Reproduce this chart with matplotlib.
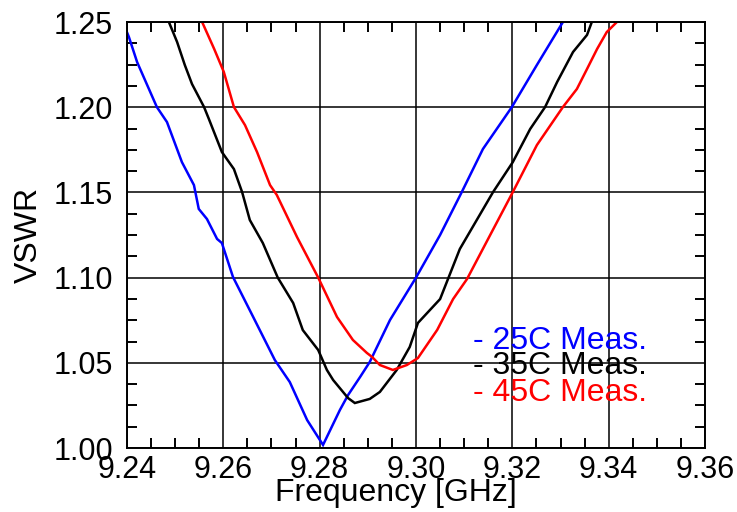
import matplotlib
matplotlib.use("Agg")
import matplotlib.pyplot as plt
from matplotlib.ticker import MultipleLocator

freq_25c = [9.2400, 9.2404, 9.2421, 9.2462, 9.2483, 9.2514, 9.2539, 9.2549,
            9.2566, 9.2587, 9.2597, 9.2620, 9.2662, 9.2707, 9.2738, 9.2774,
            9.2807, 9.2842, 9.2859, 9.2884, 9.2904, 9.2946, 9.3000, 9.3050,
            9.3095, 9.3139, 9.3199, 9.3251, 9.3305, 9.3310]
vswr_25c = [1.2440, 1.2412, 1.2265, 1.2001, 1.1913, 1.1678, 1.1543, 1.1403,
            1.1344, 1.1227, 1.1203, 1.1004, 1.0769, 1.0516, 1.0387, 1.0164,
            1.0018, 1.0223, 1.0311, 1.0417, 1.0505, 1.0751, 1.1000, 1.1250,
            1.1502, 1.1755, 1.2001, 1.2248, 1.2500, 1.2530]

freq_35c = [9.2480, 9.2487, 9.2504, 9.2520, 9.2535, 9.2560, 9.2570, 9.2597,
            9.2622, 9.2639, 9.2655, 9.2682, 9.2713, 9.2745, 9.2765, 9.2797,
            9.2815, 9.2828, 9.2859, 9.2873, 9.2904, 9.2925, 9.2960, 9.2987,
            9.3004, 9.3050, 9.3091, 9.3160, 9.3201, 9.3237, 9.3268, 9.3293,
            9.3326, 9.3355, 9.3365, 9.3370]
vswr_35c = [1.2540, 1.2500, 1.2383, 1.2248, 1.2136, 1.2001, 1.1931, 1.1737,
            1.1637, 1.1502, 1.1338, 1.1203, 1.1000, 1.0851, 1.0692, 1.0575,
            1.0458, 1.0399, 1.0293, 1.0264, 1.0288, 1.0329, 1.0458, 1.0593,
            1.0734, 1.0874, 1.1168, 1.1502, 1.1678, 1.1872, 1.2001, 1.2148,
            1.2324, 1.2424, 1.2500, 1.2530]

freq_45c = [9.2550, 9.2556, 9.2581, 9.2601, 9.2622, 9.2645, 9.2670, 9.2697,
            9.2711, 9.2753, 9.2797, 9.2836, 9.2869, 9.2898, 9.2909, 9.2925,
            9.2952, 9.2981, 9.3004, 9.3044, 9.3077, 9.3106, 9.3154, 9.3201,
            9.3251, 9.3305, 9.3334, 9.3355, 9.3376, 9.3396, 9.3417, 9.3422]
vswr_45c = [1.2540, 1.2500, 1.2342, 1.2207, 1.2001, 1.1895, 1.1737, 1.1543,
            1.1485, 1.1238, 1.1000, 1.0769, 1.0634, 1.0558, 1.0534, 1.0487,
            1.0458, 1.0487, 1.0528, 1.0693, 1.0874, 1.0992, 1.1250, 1.1502,
            1.1778, 1.2001, 1.2107, 1.2224, 1.2342, 1.2441, 1.2500, 1.2530]

series = [
    (freq_25c, vswr_25c, "#0000ff", "- 25C Meas."),
    (freq_35c, vswr_35c, "#000000", "- 35C Meas."),
    (freq_45c, vswr_45c, "#ff0000", "- 45C Meas."),
]

x_ticks = [9.24, 9.26, 9.28, 9.30, 9.32, 9.34, 9.36]
y_ticks = [1.00, 1.05, 1.10, 1.15, 1.20, 1.25]

plt.rcParams["font.family"] = ["Liberation Sans", "DejaVu Sans"]

fig = plt.figure(figsize=(7.37, 5.12), dpi=100, facecolor="white")
ax = fig.add_axes([0.1723, 0.125, 0.7843, 0.832])

for fx, fy, col, _ in series:
    ax.plot(fx, fy, color=col, lw=1.8, solid_joinstyle="miter")

ax.set_xlim(9.24, 9.36)
ax.set_ylim(1.00, 1.25)
ax.set_xticks(x_ticks)
ax.set_yticks(y_ticks)
ax.set_xticklabels([f"{v:.2f}" for v in x_ticks])
ax.set_yticklabels([f"{v:.2f}" for v in y_ticks])
ax.xaxis.set_minor_locator(MultipleLocator(0.005))
ax.yaxis.set_minor_locator(MultipleLocator(0.0125))
ax.grid(True, which="major", color="black", lw=1.1)
ax.tick_params(which="major", length=0, labelsize=22, pad=5)
ax.tick_params(axis="y", which="major", pad=10)
ax.tick_params(which="minor", direction="in", length=7.5, width=1.4,
               top=True, right=True, bottom=True, left=True)
for sp in ax.spines.values():
    sp.set_linewidth(1.4)

ax.set_xlabel("Frequency [GHz]", fontsize=23)
ax.xaxis.set_label_coords(0.465, -0.07)
ax.set_ylabel("VSWR", fontsize=23)
ax.yaxis.set_label_coords(-0.143, 0.5)

legend_y = [0.251, 0.192, 0.129]
for (_, _, col, name), ly in zip(series, legend_y):
    ax.text(0.599, ly, name, color=col, fontsize=23,
            transform=ax.transAxes, va="center", ha="left")

fig.savefig("out.png", dpi=100, facecolor="white")
